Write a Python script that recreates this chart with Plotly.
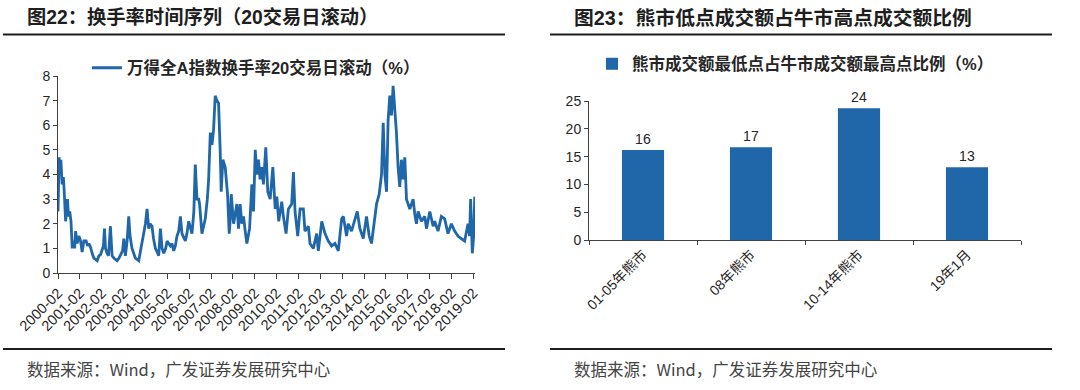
import plotly.graph_objects as go

# ---------------- data ----------------
turn_dates = [
    "2000-02-01", "2000-02-10", "2000-02-20", "2000-03-05", "2000-03-20", "2000-04-10", "2000-05-01",
    "2000-05-15", "2000-06-07", "2000-06-25", "2000-07-08", "2000-07-25", "2000-08-15", "2000-09-05",
    "2000-09-26", "2000-10-15", "2000-11-05", "2000-11-21", "2000-12-18", "2001-01-15", "2001-02-13",
    "2001-03-10", "2001-04-08", "2001-05-16", "2001-06-10", "2001-07-01", "2001-07-28", "2001-08-25",
    "2001-09-22", "2001-11-17", "2001-12-15", "2002-01-12", "2002-02-09", "2002-03-01", "2002-03-18",
    "2002-04-05", "2002-05-01", "2002-05-25", "2002-06-26", "2002-07-24", "2002-08-25", "2002-10-16",
    "2002-11-15", "2002-12-10", "2003-01-15", "2003-02-05", "2003-03-03", "2003-04-01", "2003-04-28",
    "2003-05-20", "2003-06-22", "2003-07-20", "2003-08-17", "2003-10-12", "2003-11-10", "2003-12-07",
    "2004-01-05", "2004-02-01", "2004-02-28", "2004-03-27", "2004-04-20", "2004-05-21", "2004-06-15",
    "2004-07-16", "2004-08-15", "2004-09-10", "2004-10-08", "2004-11-05", "2004-12-03", "2005-01-05",
    "2005-01-28", "2005-03-24", "2005-04-20", "2005-05-18", "2005-06-15", "2005-07-12", "2005-08-10",
    "2005-09-07", "2005-10-04", "2005-11-29", "2005-12-25", "2006-01-24", "2006-03-20", "2006-04-20",
    "2006-05-14", "2006-06-11", "2006-07-10", "2006-07-25", "2006-09-02", "2006-10-01", "2006-10-28",
    "2006-12-01", "2006-12-23", "2007-01-20", "2007-02-17", "2007-03-15", "2007-04-12", "2007-05-10",
    "2007-06-07", "2007-07-04", "2007-07-21", "2007-08-18", "2007-09-26", "2007-11-04", "2007-12-02",
    "2007-12-20", "2008-01-05", "2008-02-13", "2008-03-10", "2008-04-08", "2008-05-05", "2008-06-02",
    "2008-06-30", "2008-07-28", "2008-08-25", "2008-09-22", "2008-11-06", "2008-12-14", "2009-01-11",
    "2009-02-09", "2009-03-07", "2009-04-04", "2009-05-01", "2009-05-29", "2009-06-26", "2009-08-04",
    "2009-09-07", "2009-10-16", "2009-11-30", "2010-01-08", "2010-02-05", "2010-03-08", "2010-04-28",
    "2010-05-25", "2010-07-09", "2010-08-17", "2010-10-11", "2010-11-09", "2010-12-06", "2011-01-20",
    "2011-02-28", "2011-04-24", "2011-05-21", "2011-07-16", "2011-08-13", "2011-10-08", "2011-12-02",
    "2011-12-30", "2012-02-25", "2012-04-20", "2012-06-14", "2012-08-09", "2012-10-03", "2012-11-28",
    "2013-01-23", "2013-02-20", "2013-04-15", "2013-05-12", "2013-07-07", "2013-09-01", "2013-10-10",
    "2013-11-24", "2014-01-19", "2014-03-14", "2014-04-28", "2014-06-06", "2014-08-01", "2014-08-29",
    "2014-10-12", "2014-11-20", "2014-12-18", "2015-01-15", "2015-02-12", "2015-03-10", "2015-04-07",
    "2015-05-05", "2015-06-02", "2015-06-29", "2015-07-27", "2015-08-24", "2015-09-21", "2015-10-19",
    "2015-11-16", "2015-12-14", "2016-01-11", "2016-03-06", "2016-05-01", "2016-05-28", "2016-06-25",
    "2016-07-23", "2016-09-17", "2016-11-12", "2016-12-10", "2017-02-04", "2017-03-31", "2017-04-27",
    "2017-06-21", "2017-08-16", "2017-10-10", "2017-12-05", "2018-01-30", "2018-03-26", "2018-05-20",
    "2018-07-15", "2018-09-09", "2018-11-04", "2018-12-01", "2018-12-18", "2019-01-15", "2019-02-07",
    "2019-02-25",
]
turn_values = [
    2.5, 4.0, 4.7, 4.2, 4.6, 3.6, 3.9,
    3.3, 2.1, 2.6, 3.0, 2.3, 2.5, 2.1,
    1.0, 1.3, 1.0, 1.7, 1.2, 1.5, 1.3,
    0.85, 1.3, 1.3, 1.1, 1.2, 1.05, 0.8,
    0.6, 0.5, 0.7, 0.75, 1.0, 1.1, 1.8,
    1.0, 0.8, 0.7, 1.9, 0.7, 0.6, 0.5,
    0.6, 0.7, 0.9, 1.4, 0.7, 1.3, 2.3,
    1.5, 1.0, 0.8, 0.6, 0.5, 0.9, 1.3,
    1.6, 2.0, 2.6, 1.8, 2.0, 1.9, 1.4,
    1.0, 0.85, 0.7, 1.8, 1.0, 0.8, 1.0,
    1.3, 1.1, 1.2, 0.9, 1.1, 1.5, 1.7,
    2.3, 1.6, 1.3, 1.6, 2.1, 1.6, 2.5,
    4.4, 3.0, 3.0, 2.8, 1.6, 1.9, 2.2,
    3.0, 3.8, 5.7, 5.2, 5.8, 7.2, 7.0,
    6.9, 5.0, 3.3, 4.6, 4.3, 3.2, 1.6,
    2.2, 3.2, 2.0, 2.4, 2.8, 1.8, 2.8,
    2.0, 2.3, 1.7, 1.2, 1.8, 3.6, 2.5,
    5.0, 4.0, 4.6, 3.8, 4.3, 3.6, 5.1,
    3.3, 3.0, 4.3, 2.6, 3.1, 2.1, 2.9,
    2.3, 1.6, 2.6, 2.8, 4.1, 2.5, 1.5,
    2.6, 2.6, 1.7, 1.9, 1.2, 1.0, 1.6,
    0.9, 2.1, 1.6, 1.3, 1.1, 1.2, 0.9,
    2.2, 2.3, 1.5, 2.0, 1.7, 2.2, 2.5,
    1.8, 1.4, 2.3, 1.5, 1.2, 2.2, 2.8,
    3.2, 4.0, 6.1, 4.0, 3.3, 6.2, 7.2,
    6.4, 7.6, 6.8, 5.7, 4.3, 3.5, 4.6,
    3.8, 4.7, 3.0, 2.6, 3.0, 2.4, 2.0,
    2.5, 2.1, 2.3, 1.8, 2.5, 1.9, 2.1,
    1.7, 2.3, 2.2, 1.6, 2.0, 1.7, 1.5,
    1.4, 1.3, 2.0, 1.5, 3.0, 0.8, 1.5,
    3.1,
]

xtick_dates = [
    "2000-02-01", "2001-02-01", "2002-02-01", "2003-02-01", "2004-02-01", "2005-02-01", "2006-02-01",
    "2007-02-01", "2008-02-01", "2009-02-01", "2010-02-01", "2011-02-01", "2012-02-01", "2013-02-01",
    "2014-02-01", "2015-02-01", "2016-02-01", "2017-02-01", "2018-02-01", "2019-02-01",
]
xtick_labels = [
    "2000-02", "2001-02", "2002-02", "2003-02", "2004-02", "2005-02", "2006-02",
    "2007-02", "2008-02", "2009-02", "2010-02", "2011-02", "2012-02", "2013-02",
    "2014-02", "2015-02", "2016-02", "2017-02", "2018-02", "2019-02",
]

bar_categories = ["01-05年熊市", "08年熊市", "10-14年熊市", "19年1月"]
bar_values = [16.2, 16.7, 23.7, 13.1]

left_title = "图22：换手率时间序列（20交易日滚动）"
right_title = "图23：熊市低点成交额占牛市高点成交额比例"
line_name = "万得全A指数换手率20交易日滚动（%）"
bar_name = "熊市成交额最低点占牛市成交额最高点比例（%）"
source_text = "数据来源：Wind，广发证券发展研究中心"

# ---------------- style ----------------
W, H = 1080, 390
BLUE = "#1f67a8"
AXIS = "#404040"
TXT = "#262626"
FONT = "Liberation Sans, Arial, Noto Sans CJK SC, sans-serif"
CJK = "Noto Sans CJK SC, Liberation Sans, sans-serif"


def fx(p):
    return p / W


def fy(p):
    return 1 - p / H


fig = go.Figure()
fig.add_trace(go.Scatter(
    x=turn_dates, y=turn_values, mode="lines", name=line_name,
    line=dict(color=BLUE, width=2.8), xaxis="x", yaxis="y", legend="legend",
))
fig.add_trace(go.Bar(
    x=bar_categories, y=bar_values, name=bar_name, marker=dict(color=BLUE),
    texttemplate="%{y:.0f}", textposition="outside", cliponaxis=False,
    textfont=dict(family=FONT, size=14, color=TXT),
    xaxis="x2", yaxis="y2", legend="legend2",
))

axis_common = dict(showline=True, linecolor=AXIS, linewidth=1, showgrid=False, zeroline=False,
                   ticks="outside", tickcolor=AXIS, tickwidth=1, fixedrange=True, automargin=False)

fig.update_layout(
    template="none",
    width=W, height=H, margin=dict(l=0, r=0, t=0, b=0, pad=0, autoexpand=False),
    paper_bgcolor="white", plot_bgcolor="white", bargap=0.61,
    font=dict(family=FONT, color=TXT),
    xaxis=dict(domain=[fx(58), fx(475)], anchor="y", type="date",
               range=["2000-02-01", "2019-03-01"], tickmode="array",
               tickvals=xtick_dates, ticktext=xtick_labels, tickangle=-45, ticklen=5,
               tickfont=dict(size=14.5, color=TXT), **axis_common),
    yaxis=dict(domain=[fy(273), fy(76)], anchor="x", range=[0, 8], dtick=1, ticklen=4,
               tickfont=dict(size=14, color=TXT), **axis_common),
    xaxis2=dict(domain=[fx(589), fx(1021)], anchor="y2", type="category", range=[-0.5, 3.5],
                tickson="boundaries", tickangle=-45, ticklen=4,
                tickfont=dict(size=14, color=TXT, family=FONT), **axis_common),
    yaxis2=dict(domain=[fy(240), fy(101)], anchor="x2", range=[0, 25], dtick=5, ticklen=4,
                tickfont=dict(size=14, color=TXT), **axis_common),
    legend=dict(x=fx(87), y=fy(68), xanchor="left", yanchor="middle", bgcolor="rgba(0,0,0,0)",
                font=dict(family=FONT, size=16.5, color=TXT, weight="bold"), itemwidth=30),
    legend2=dict(x=fx(592), y=fy(64), xanchor="left", yanchor="middle", bgcolor="rgba(0,0,0,0)",
                 font=dict(family=FONT, size=16.5, color=TXT, weight="bold"), itemwidth=30),
    showlegend=True,
)

annotations = [
    dict(text=left_title, x=fx(25), y=fy(17.5), xanchor="left", yanchor="middle",
         font=dict(family=FONT, size=19.3, color="#1e1e1e", weight="bold")),
    dict(text=right_title, x=fx(572), y=fy(18), xanchor="left", yanchor="middle",
         font=dict(family=FONT, size=19.8, color="#1e1e1e", weight="bold")),
    dict(text=source_text, x=fx(25), y=fy(369), xanchor="left", yanchor="middle",
         font=dict(family=CJK, size=16.5, color="#444444")),
    dict(text=source_text, x=fx(572), y=fy(369), xanchor="left", yanchor="middle",
         font=dict(family=CJK, size=16.5, color="#444444")),
]
for a in annotations:
    a.update(xref="paper", yref="paper", showarrow=False)
fig.update_layout(annotations=annotations)

rules = [(3, 505, 34.5), (3, 505, 349), (550, 1052, 34.5), (550, 1052, 349)]
fig.update_layout(shapes=[
    dict(type="line", xref="paper", yref="paper", x0=fx(a), x1=fx(b), y0=fy(y), y1=fy(y),
         line=dict(color="#1e1e1e", width=2))
    for a, b, y in rules
])

fig.write_html("out.html", config={"displayModeBar": False},
               post_script="document.body.style.margin='0';")
